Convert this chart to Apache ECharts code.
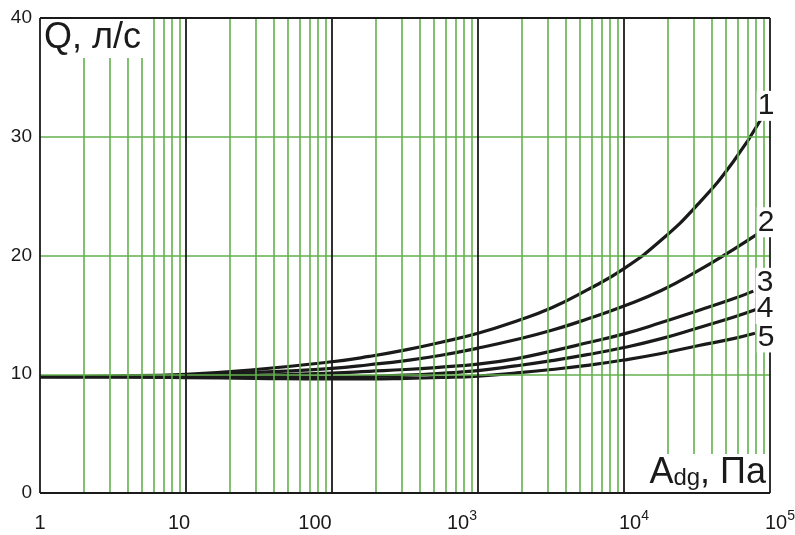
<!DOCTYPE html>
<html>
<head>
<meta charset="utf-8">
<script src="https://cdn.jsdelivr.net/npm/echarts@6/dist/echarts.min.js"></script>
<style>
  html, body { margin: 0; padding: 0; background: #fff; }
  #chart { width: 795px; height: 535px; }
</style>
</head>
<body>
<div id="chart"></div>
<script>
// x: перепад давления Adg, Па (лог. шкала); y: расход Q, л/с
const pressurePa = [1, 3, 10, 30, 100, 180, 320, 560, 1000, 1800, 3200, 5600, 10000, 18000, 32000, 56000];
const endPressure = [88000, 81800, 76900, 80200, 78900];

const flow1 = [9.8, 9.85, 10.0, 10.4, 11.05, 11.5, 12.05, 12.7, 13.45, 14.45, 15.6, 17.1, 18.9, 21.3, 24.3, 27.9, 31.6];
const flow2 = [9.8, 9.8, 9.9, 10.15, 10.5, 10.8, 11.15, 11.6, 12.2, 12.9, 13.7, 14.65, 15.75, 17.05, 18.7, 20.5, 21.8];
const flow3 = [9.8, 9.8, 9.82, 9.9, 10.1, 10.25, 10.4, 10.6, 10.85, 11.3, 11.95, 12.65, 13.4, 14.35, 15.35, 16.35, 17.0];
const flow4 = [9.8, 9.8, 9.75, 9.72, 9.75, 9.82, 9.92, 10.08, 10.3, 10.7, 11.15, 11.65, 12.25, 13.0, 13.9, 14.8, 15.45];
const flow5 = [9.8, 9.78, 9.72, 9.65, 9.6, 9.6, 9.65, 9.73, 9.85, 10.1, 10.4, 10.75, 11.2, 11.75, 12.4, 13.0, 13.45];
const flows = [flow1, flow2, flow3, flow4, flow5];

const curveNames = ['1', '2', '3', '4', '5'];
// где стоят номера кривых (в единицах осей)
const curveLabelX = [93900, 93900, 92400, 92400, 93900];
const curveLabelY = [32.6, 22.8, 17.7, 15.5, 13.1];

const decades = [1, 10, 100, 1000, 10000];
const minorSteps = [2, 3, 4, 5, 6, 7, 8, 9];
const majorX = [1, 10, 100, 1000, 10000, 100000];
const greenY = [10, 20, 30];
const borderY = [0, 40];

const GREEN = '#63b04f';
const INK = '#1a1a1a';
const FONT = '"Liberation Sans", Arial, sans-serif';

const minorX = [];
decades.forEach(d => minorSteps.forEach(m => minorX.push(d * m)));

const chart = echarts.init(document.getElementById('chart'));

function lineSet(list, key, color, width) {
  return list.map(v => ({ [key]: v, lineStyle: { color, width, type: 'solid' } }));
}

const curveSeries = flows.map((ys, i) => ({
  name: curveNames[i],
  type: 'line',
  z: 3,
  data: ys.map((y, k) => [k < pressurePa.length ? pressurePa[k] : endPressure[i], y]),
  smooth: 0.5,
  symbol: 'none',
  lineStyle: { color: INK, width: 3.2 },
  markPoint: {
    symbol: 'circle',
    symbolSize: 0,
    silent: true,
    data: [{ coord: [curveLabelX[i], curveLabelY[i]], value: curveNames[i] }],
    label: {
      show: true,
      position: 'inside',
      formatter: curveNames[i],
      color: INK,
      fontFamily: FONT,
      fontSize: 30,
      backgroundColor: '#fff',
      padding: [0, 1, 0, 1],
    },
  },
}));

// подписи оси x в оригинале стоят не строго по центру делений
const base = { fontSize: 20, fontFamily: FONT, color: INK, lineHeight: 24, verticalAlign: 'bottom' };
const sup = { fontSize: 14, fontFamily: FONT, color: INK, lineHeight: 24, verticalAlign: 'top' };

const option = {
  backgroundColor: '#fff',
  animation: false,
  grid: { left: 40, right: 25, top: 18, bottom: 42, outerBoundsMode: 'none' },
  xAxis: {
    type: 'log',
    logBase: 10,
    min: 1,
    max: 100000,
    splitLine: { show: false },
    axisLine: { show: false },
    axisTick: { show: false },
    axisLabel: {
      margin: 16,
      fontFamily: FONT,
      color: INK,
      formatter: v => {
        const p = Math.round(Math.log10(v));
        if (p < 3) return '{n' + p + '|' + Math.round(v) + '}';
        if (p === 3) return '{b|10}{s3|3}';
        return '{bR|10}{s|' + p + '}';
      },
      rich: {
        n0: { ...base },
        n1: { ...base, padding: [0, 14, 0, 0] },
        n2: { ...base, padding: [0, 34, 0, 0] },
        b: { ...base },
        bR: { ...base, padding: [0, 0, 0, 20] },
        s: { ...sup, padding: [0, 0, 10, 0] },
        s3: { ...sup, padding: [0, 32, 10, 0] },
      },
    },
  },
  yAxis: {
    type: 'value',
    min: 0,
    max: 40,
    interval: 10,
    splitLine: { show: false },
    axisLine: { show: false },
    axisTick: { show: false },
    axisLabel: { margin: 8, fontSize: 19, fontFamily: FONT, color: INK },
  },
  graphic: [
    {
      type: 'text',
      left: 42,
      top: 19,
      z: 50,
      style: {
        text: 'Q, л/с',
        font: '36px ' + FONT,
        fill: INK,
        backgroundColor: '#fff',
        padding: [1, 2, 2, 2],
      },
    },
    {
      type: 'text',
      right: 27,
      top: 454,
      z: 50,
      style: {
        text: '{a|A}{s|dg}{a|, Па}',
        fill: INK,
        backgroundColor: '#fff',
        padding: [1, 2, 1, 4],
        rich: {
          a: { fontSize: 36, fontFamily: FONT, fill: INK, color: INK, lineHeight: 36, verticalAlign: 'bottom' },
          s: { fontSize: 24, fontFamily: FONT, fill: INK, color: INK, lineHeight: 36, verticalAlign: 'bottom', padding: [0, 0, 1, 0] },
        },
      },
    },
  ],
  series: [
    {
      name: 'сетка',
      type: 'line',
      z: 1,
      data: [],
      silent: true,
      markLine: {
        silent: true,
        symbol: 'none',
        label: { show: false },
        animation: false,
        data: [
          ...lineSet(minorX, 'xAxis', GREEN, 1.6),
          ...lineSet(greenY, 'yAxis', GREEN, 1.6),
          ...lineSet(majorX, 'xAxis', INK, 1.8),
          ...lineSet(borderY, 'yAxis', INK, 1.8),
        ],
      },
    },
    ...curveSeries,
  ],
};

chart.setOption(option);
</script>
</body>
</html>
